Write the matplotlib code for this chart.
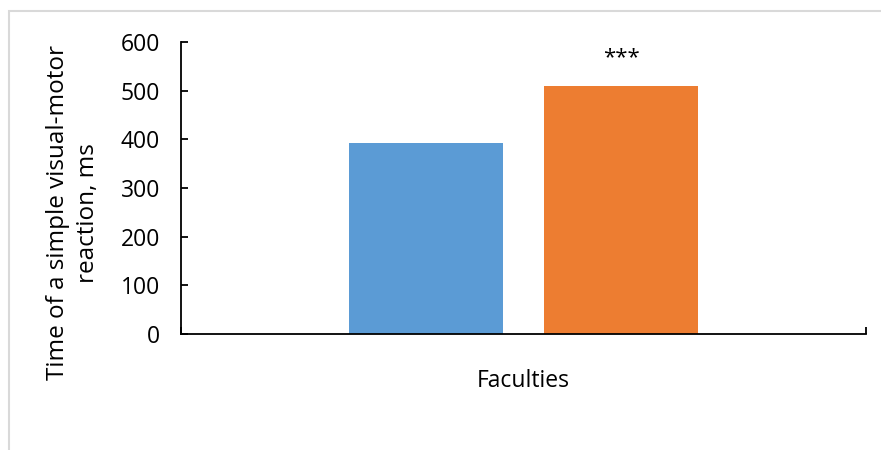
import matplotlib
matplotlib.use("Agg")
import matplotlib.pyplot as plt
from matplotlib.patches import Rectangle

plt.rcParams['font.family'] = ['Open Sans', 'DejaVu Sans']

# --- Data ---
series_names = ["Faculty 1", "Faculty 2"]
reaction_ms = [392, 510]
series_colors = ["#5b9bd5", "#ed7d31"]
significance = ["", "***"]
category_label = "Faculties"
value_label = "Time of a simple visual-motor\nreaction, ms"

W, H = 881, 450
fig = plt.figure(figsize=(W / 100, H / 100), dpi=100)

# chart area frame (light grey, like an office chart object)
fig.patches.append(Rectangle((8.5 / W, -0.1), 1.2, (H - 11.5) / H + 0.1,
                             transform=fig.transFigure, fill=False,
                             edgecolor="#d9d9d9", linewidth=1.5))

ax = fig.add_axes([181 / W, (H - 334) / H, (866 - 181) / W, (334 - 42) / H])

bar_w = 0.225
offsets = [-0.1423, 0.1423]
for off, val, col, sig in zip(offsets, reaction_ms, series_colors, significance):
    ax.bar(off, val, width=bar_w, color=col, zorder=2)
    if sig:
        ax.text(off, val + 58, sig, ha="center", va="center", fontsize=16)

ax.set_xlim(-0.5, 0.5)
ax.set_ylim(0, 600)
ax.set_yticks(range(0, 601, 100))
ax.set_xticks([-0.5, 0.5])
ax.set_xticklabels([])

for s in ["top", "right"]:
    ax.spines[s].set_visible(False)
for s in ["left", "bottom"]:
    ax.spines[s].set_linewidth(1.3)
    ax.spines[s].set_zorder(3)

ax.tick_params(axis="y", direction="in", length=5, width=1.3, labelsize=16.5, pad=15)
ax.tick_params(axis="x", direction="in", length=5, width=1.3)

ax.set_xlabel(category_label, fontsize=16.5, labelpad=22)
fig.text(73 / W, 1 - 213 / H, value_label, rotation=90, ha="center", va="center",
         multialignment="center", fontsize=17.5, linespacing=1.3)

fig.savefig("out.png", dpi=100)
